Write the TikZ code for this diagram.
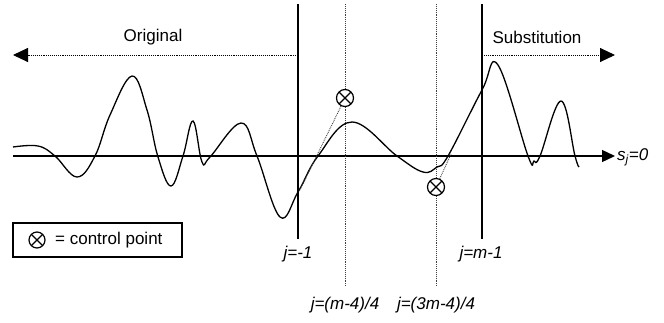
\documentclass[tikz,border=0pt]{standalone}
\usepackage{fontspec}
\setmainfont{Liberation Sans}
\usetikzlibrary{arrows.meta}
\begin{document}
\begin{tikzpicture}[x=1pt,y=-1pt,
  font=\fontsize{17}{20}\selectfont,
  solidline/.style={line width=1.3pt},
  dotline/.style={densely dotted,line width=0.9pt,black!75},
  bigtip/.style={-{Triangle[length=15pt,width=14pt]}},
  axistip/.style={-{Triangle[length=13pt,width=12pt]}},
  lbl/.style={font=\fontsize{17}{20}\selectfont\itshape,inner sep=0pt},
  cpt/.style={circle,draw,line width=1.2pt,minimum size=#1,inner sep=0pt,fill=white,
    path picture={\draw[line width=1.2pt]
      ([shift={(45:0.5*#1)}]path picture bounding box.center) -- ([shift={(225:0.5*#1)}]path picture bounding box.center)
      ([shift={(135:0.5*#1)}]path picture bounding box.center) -- ([shift={(315:0.5*#1)}]path picture bounding box.center);}},
  cpt/.default=17pt]
\useasboundingbox (0,0) rectangle (664,322);

% axis
\coordinate (axL) at (13,156);
\coordinate (axR) at (615,156);
\draw[solidline,axistip] (axL) -- (axR);
\node[lbl,anchor=west] (sj) at (617,157) {s\textsubscript{j}=0};

% vertical lines
\coordinate (v1t) at (298,4);  \coordinate (v1b) at (298,239);
\coordinate (v2t) at (482,4);  \coordinate (v2b) at (482,239);
\coordinate (d1t) at (345,4);  \coordinate (d1b) at (345,287);
\coordinate (d2t) at (436,4);  \coordinate (d2b) at (436,287);
\draw[dotline] (d1t) -- (d1b);
\draw[dotline] (d2t) -- (d2b);
\draw[solidline] (v1t) -- (v1b);
\draw[solidline] (v2t) -- (v2b);

\node[lbl] (l1) at (298,254) {j=-1};
\node[lbl] (l2) at (481,254) {j=m-1};
\node[lbl] (l3) at (345,305) {j=(m-4)/4};
\node[lbl] (l4) at (436,305) {j=(3m-4)/4};

% region arrows
\coordinate (oL) at (13,55); \coordinate (oR) at (298,55);
\coordinate (sL) at (482,55); \coordinate (sR) at (615,55);
\draw[dotline,black,bigtip] (oR) -- (oL);
\draw[dotline,black,bigtip] (sL) -- (sR);
\node (orig) at (153,37) {Original};
\node (subs) at (537,37) {Substitution};

% curve
\draw[solidline] plot[smooth,tension=0.65] coordinates {
 (13,147) (38,146) (55,156) (77,177) (95,156) (110,115) (132,76) (147,110) (158,157)
 (171,186) (183,156) (193,121) (202,162) (210,157) (241,123) (257,156) (280,217)
 (298,192) (318,156) (352,122) (397,156) (423,172) (437,167) (448,156) (482,90)
 (498,65) (528,156) (534,161) (540,156) (561,101) (575,156) (579,167)};

% control points
\coordinate (c1a) at (300,190);
\coordinate (c2a) at (451,154);
\node[cpt] (cp1) at (345,98) {};
\node[cpt] (cp2) at (436,187) {};
\draw[dotline] (cp1) -- (c1a);
\draw[dotline] (cp2) -- (c2a);

% legend
\node[draw,line width=1.2pt,minimum width=169pt,minimum height=34pt,inner sep=0pt] (leg) at (97.5,240) {};
\node[cpt=16pt] (legcp) at (37,240) {};
\node[anchor=west,inner sep=0pt] (legt) at (55,240) {= control point};
\end{tikzpicture}
\end{document}
